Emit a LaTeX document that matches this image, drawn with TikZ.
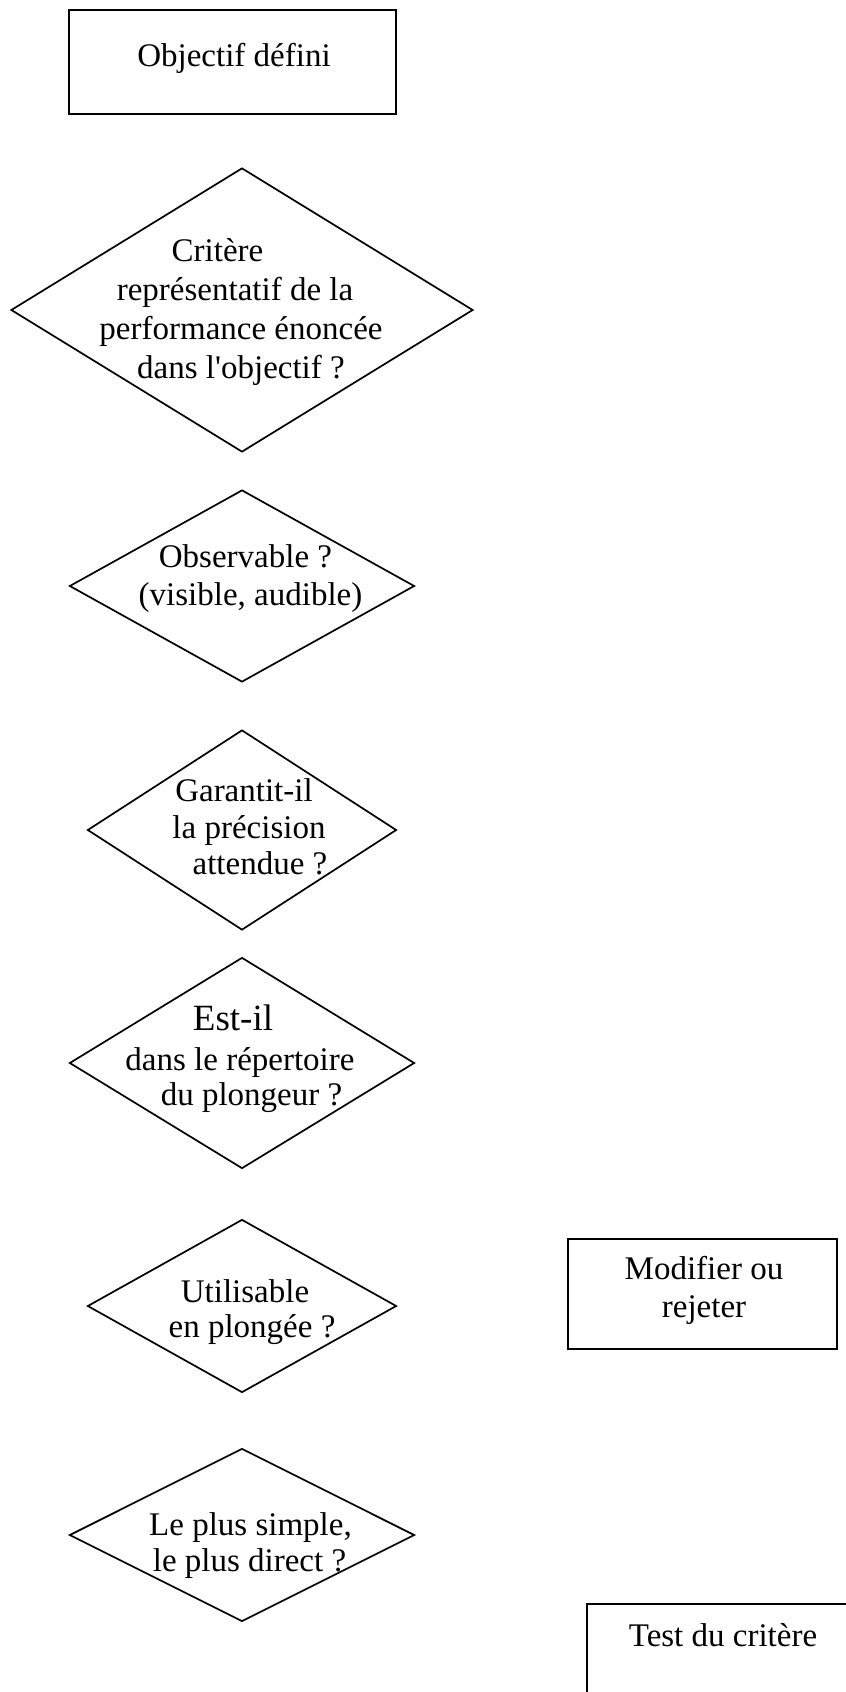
\documentclass[tikz,border=0pt]{standalone}
\usepackage{fontspec}
\setmainfont{Liberation Serif}
\usetikzlibrary{shapes.geometric}
\begin{document}
\begin{tikzpicture}[x=1pt,y=-1pt,line width=1.7pt,
  dia/.style={draw, diamond, inner sep=0pt},
  box/.style={draw, rectangle, inner sep=0pt, line width=2pt},
  txt/.style={anchor=base, inner sep=0pt, font=\fontsize{33}{37}\selectfont},
  bigtxt/.style={anchor=base, inner sep=0pt, font=\fontsize{37}{40}\selectfont}]
\useasboundingbox (0,0) rectangle (846,1692);
\clip (0,0) rectangle (846,1692);
% boxes
\node[box, minimum width=327pt, minimum height=104pt] (obj) at (232.5,62) {};
\node[txt] (objt) at (234,66) {Objectif défini};
\node[box, minimum width=269pt, minimum height=110pt] (mod) at (702.5,1294) {};
\node[txt] (moda) at (704,1279) {Modifier ou};
\node[txt] (modb) at (704,1317) {rejeter};
\node[box, minimum width=273pt, minimum height=140pt] (test) at (723.5,1674) {};
\node[txt] (testt) at (723,1646) {Test du critère};
% diamonds
\node[dia, minimum width=462pt, minimum height=284pt] (d1) at (242,310) {};
\node[txt] (d1a) at (217.5,261) {Critère};
\node[txt] (d1b) at (235,300) {représentatif de la};
\node[txt] (d1c) at (241,339) {performance énoncée};
\node[txt] (d1d) at (241,378) {dans l\textquotesingle objectif ?};
\node[dia, minimum width=345pt, minimum height=192pt] (d2) at (242,586) {};
\node[txt] (d2a) at (245.5,567) {Observable ?};
\node[txt] (d2b) at (250.5,605) {(visible, audible)};
\node[dia, minimum width=309pt, minimum height=200pt] (d3) at (242,830) {};
\node[txt] (d3a) at (244,801) {Garantit-il};
\node[txt] (d3b) at (249,838) {la précision};
\node[txt] (d3c) at (260,874) {attendue ?};
\node[dia, minimum width=345pt, minimum height=211pt] (d4) at (242,1063) {};
\node[bigtxt] (d4a) at (233,1030) {Est-il};
\node[txt] (d4b) at (240,1070) {dans le répertoire};
\node[txt] (d4c) at (251.5,1105) {du plongeur ?};
\node[dia, minimum width=309pt, minimum height=173pt] (d5) at (242,1306) {};
\node[txt] (d5a) at (245,1302) {Utilisable};
\node[txt] (d5b) at (252,1337) {en plongée ?};
\node[dia, minimum width=345pt, minimum height=173pt] (d6) at (242,1535) {};
\node[txt] (d6a) at (250.5,1535) {Le plus simple,};
\node[txt] (d6b) at (249.5,1571) {le plus direct ?};
\end{tikzpicture}
\end{document}
